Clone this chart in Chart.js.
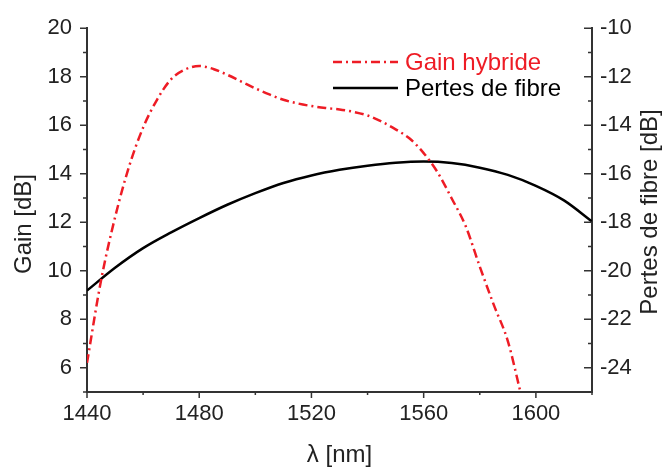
<!DOCTYPE html>
<html>
<head>
<meta charset="utf-8">
<script src="https://cdn.jsdelivr.net/npm/chart.js@4.4.1/dist/chart.umd.min.js"></script>
<style>
html, body { margin: 0; padding: 0; background: #fff; }
</style>
</head>
<body>
<canvas id="myChart" width="663" height="470"></canvas>
<script>
// gain hybride (left axis, dB)
const lambdaGain = [1440, 1445, 1450, 1455, 1460, 1465, 1470, 1475, 1480, 1485, 1490, 1495, 1500, 1505, 1510, 1515, 1520, 1525, 1530, 1535, 1540, 1545, 1550, 1555, 1560, 1565, 1570, 1575, 1580, 1585, 1590, 1594.5];
const gainHybride = [6.2, 9.6, 12.2, 14.3, 15.9, 17.06, 17.9, 18.3, 18.44, 18.32, 18.08, 17.8, 17.52, 17.27, 17.05, 16.9, 16.79, 16.71, 16.65, 16.55, 16.4, 16.15, 15.83, 15.45, 14.85, 14.05, 12.98, 11.83, 10.17, 8.59, 7.1, 5.0];

// pertes de fibre (right axis, dB)
const lambdaPertes = [1440, 1450, 1460, 1470, 1480, 1490, 1500, 1510, 1520, 1530, 1540, 1550, 1560, 1570, 1580, 1590, 1600, 1610, 1620];
const pertesFibre = [-20.82, -19.88, -19.07, -18.42, -17.83, -17.28, -16.8, -16.38, -16.07, -15.84, -15.67, -15.55, -15.5, -15.56, -15.75, -16.05, -16.5, -17.1, -17.97];

const xLabels = [1440, 1480, 1520, 1560, 1600];
const leftLabels = [6, 8, 10, 12, 14, 16, 18, 20];
const rightLabels = [-24, -22, -20, -18, -16, -14, -12, -10];

const RED = '#ee1c25';
const AXIS = '#333';
const FONT = 'Liberation Sans, Arial, sans-serif';

Chart.defaults.font.family = FONT;
Chart.defaults.color = '#222';

const ctx = document.getElementById('myChart');

// tick marks (major + minor), axis titles and legend
const decorations = {
    id: 'decorations',
    afterDraw(chart) {
        const c = chart.ctx;
        const x = chart.scales.x, yl = chart.scales.y, yr = chart.scales.y2;
        c.save();
        c.strokeStyle = AXIS;
        c.lineWidth = 1.5;
        c.beginPath();
        for (let v = x.min; v <= x.max; v += 20) {
            const px = x.getPixelForValue(v);
            const len = (v - 1440) % 40 === 0 ? 6 : 3;
            c.moveTo(px, x.top);
            c.lineTo(px, x.top + len);
        }
        for (let v = yl.min; v <= yl.max; v += 1) {
            const py = yl.getPixelForValue(v);
            const len = v % 2 === 0 ? 7 : 4;
            c.moveTo(yl.right - len, py);
            c.lineTo(yl.right, py);
        }
        for (let v = yr.min; v <= yr.max; v += 1) {
            const py = yr.getPixelForValue(v);
            const len = v % 2 === 0 ? 8 : 4;
            c.moveTo(yr.left, py);
            c.lineTo(yr.left - len, py);
        }
        c.stroke();

        // y axis titles
        c.fillStyle = '#222';
        c.font = '24px ' + FONT;
        c.textAlign = 'center';
        c.textBaseline = 'middle';
        c.save();
        c.translate(24, 224);
        c.rotate(-Math.PI / 2);
        c.fillText('Gain [dB]', 0, 0);
        c.restore();
        c.save();
        c.translate(650, 212);
        c.rotate(-Math.PI / 2);
        c.fillText('Pertes de fibre [dB]', 0, 0);
        c.restore();

        // legend
        c.textAlign = 'left';
        chart.data.datasets.forEach(function(ds, i) {
            const ly = 62 + i * 26;
            c.strokeStyle = ds.borderColor;
            c.lineWidth = ds.borderWidth;
            c.setLineDash(ds.borderDash || []);
            c.beginPath();
            c.moveTo(333, ly);
            c.lineTo(398, ly);
            c.stroke();
            c.setLineDash([]);
            c.fillStyle = ds.borderColor;
            c.fillText(ds.label, 405, ly + 1);
        });
        c.restore();
    }
};

new Chart(ctx, {
    type: 'line',
    data: {
        datasets: [{
            label: 'Gain hybride',
            data: lambdaGain.map((l, i) => ({ x: l, y: gainHybride[i] })),
            borderColor: RED,
            borderWidth: 2.5,
            borderDash: [9, 4, 2, 4],
            pointRadius: 0,
            cubicInterpolationMode: 'monotone',
            yAxisID: 'y'
        }, {
            label: 'Pertes de fibre',
            data: lambdaPertes.map((l, i) => ({ x: l, y: pertesFibre[i] })),
            borderColor: '#000',
            borderWidth: 2.5,
            pointRadius: 0,
            cubicInterpolationMode: 'monotone',
            yAxisID: 'y2'
        }]
    },
    options: {
        responsive: false,
        animation: false,
        layout: { padding: { top: 24, left: 0, right: 0, bottom: 0 } },
        plugins: {
            legend: { display: false },
            tooltip: { enabled: false }
        },
        scales: {
            x: {
                type: 'linear',
                min: 1440,
                max: 1620,
                grid: { display: false, drawTicks: false },
                border: { display: true, color: AXIS, width: 2 },
                ticks: {
                    stepSize: 20,
                    padding: 9,
                    maxRotation: 0,
                    autoSkip: false,
                    font: { size: 22 },
                    callback: function(v) { return xLabels.includes(v) ? String(v) : ''; }
                },
                title: {
                    display: true,
                    text: 'λ [nm]',
                    font: { size: 24 },
                    padding: { top: 0, bottom: 0 }
                },
                afterFit: function(s) { s.height = 78; }
            },
            y: {
                position: 'left',
                min: 5,
                max: 20,
                grid: { display: false, drawTicks: false },
                border: { display: true, color: AXIS, width: 2 },
                ticks: {
                    stepSize: 1,
                    padding: 15,
                    autoSkip: false,
                    font: { size: 22 },
                    callback: function(v) { return leftLabels.includes(v) ? String(v) : ''; }
                },
                afterFit: function(s) { s.width = 87; }
            },
            y2: {
                position: 'right',
                min: -25,
                max: -10,
                grid: { display: false, drawTicks: false },
                border: { display: true, color: AXIS, width: 2 },
                ticks: {
                    stepSize: 1,
                    padding: 8,
                    autoSkip: false,
                    font: { size: 22 },
                    callback: function(v) { return rightLabels.includes(v) ? String(v) : ''; }
                },
                afterFit: function(s) { s.width = 71; }
            }
        }
    },
    plugins: [decorations]
});
</script>
</body>
</html>
